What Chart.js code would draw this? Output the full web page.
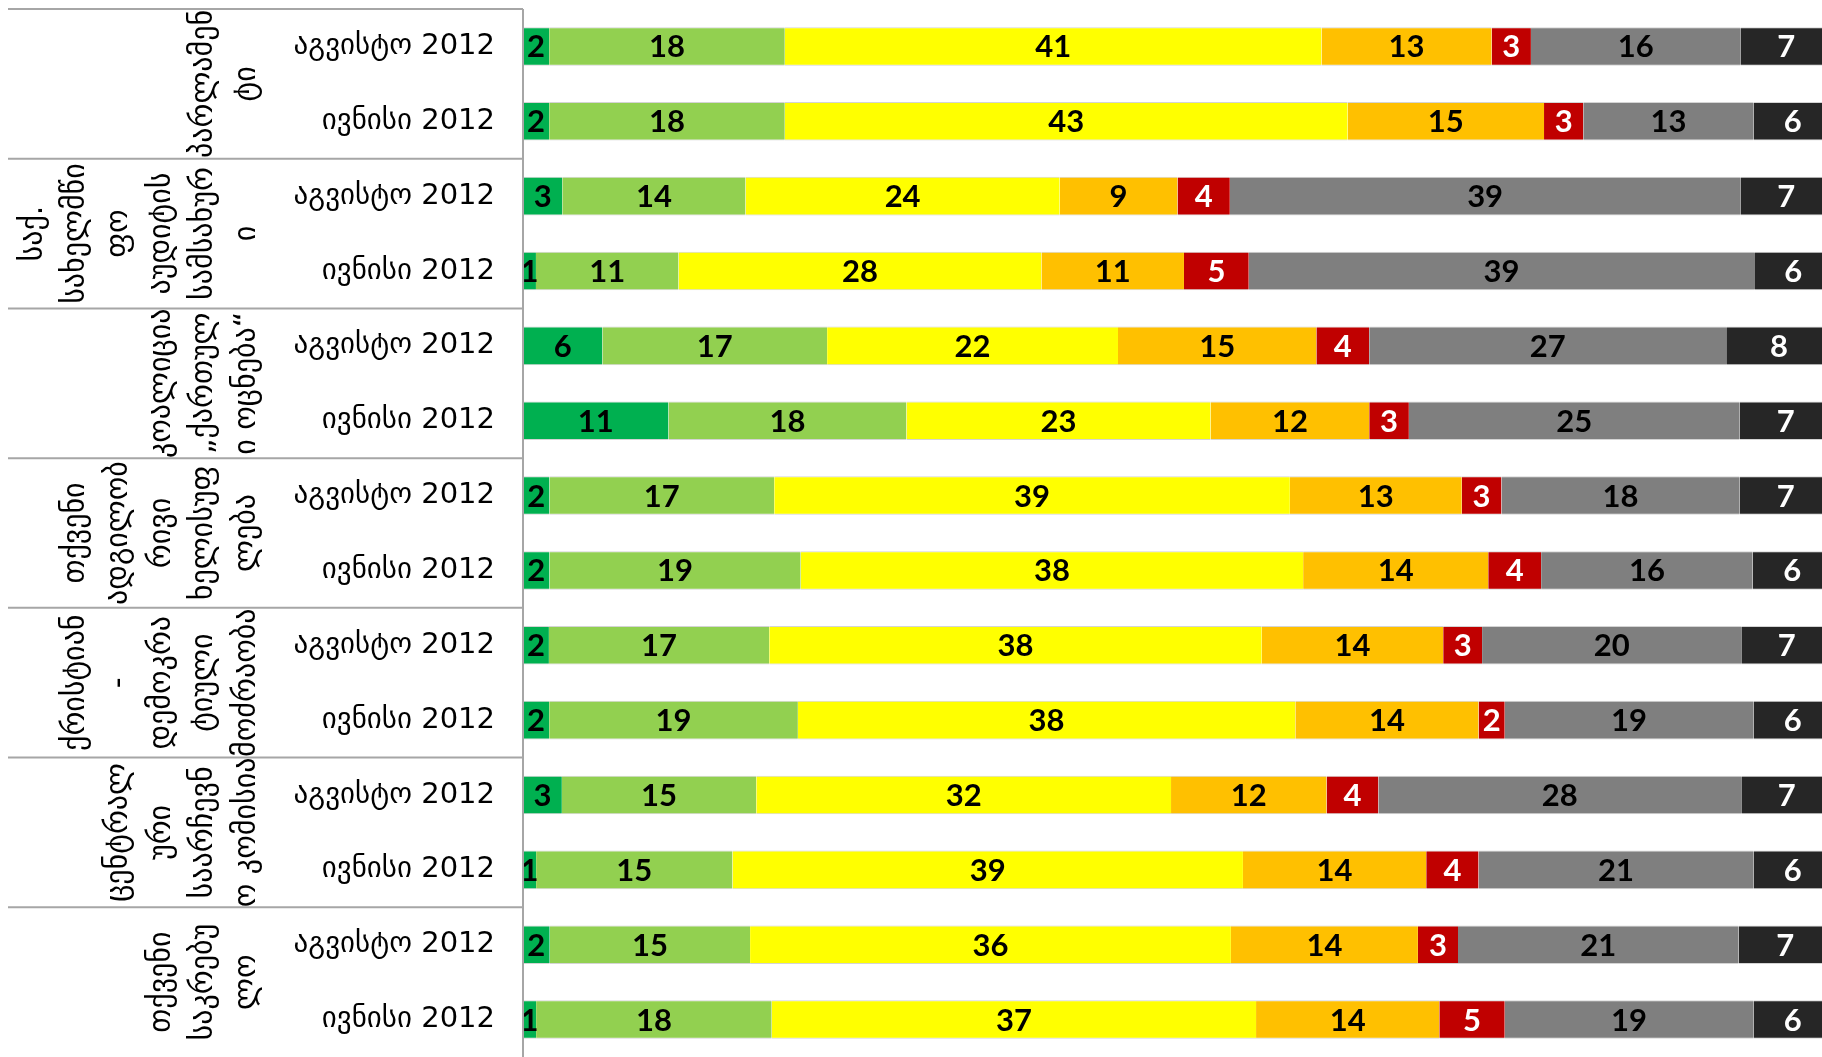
<!DOCTYPE html>
<html>
<head>
<meta charset="utf-8">
<script src="https://cdn.jsdelivr.net/npm/chart.js@4.4.1/dist/chart.umd.min.js"></script>
<style>
  html, body { margin: 0; padding: 0; background: #fff; overflow: hidden; }
  #wrap { width: 1832px; height: 1057px; }
</style>
</head>
<body>
<div id="wrap"><canvas id="c" width="1832" height="1057"></canvas></div>
<script>
// rows: two surveys per institution, top to bottom
var periods = ["აგვისტო 2012", "ივნისი 2012"];
var groups = [
  ["პარლამენ", "ტი"],
  ["საქ.", "სახელმწი", "ფო", "აუდიტის", "სამსახურ", "ი"],
  ["კოალიცია", "„ქართულ", "ი ოცნება“"],
  ["თქვენი", "ადგილობ", "რივი", "ხელისუფ", "ლება"],
  ["ქრისტიან", "-", "დემოკრა", "ტიული", "მოძრაობა"],
  ["ცენტრალ", "ური", "საარჩევნ", "ო კომისია"],
  ["თქვენი", "საკრებუ", "ლო"]
];

// answer shares, one array per colour, Aug/Jun pairs per group
var darkGreen  = [2, 2, 3, 1, 6, 11, 2, 2, 2, 2, 3, 1, 2, 1];
var lightGreen = [18, 18, 14, 11, 17, 18, 17, 19, 17, 19, 15, 15, 15, 18];
var yellow     = [41, 43, 24, 28, 22, 23, 39, 38, 38, 38, 32, 39, 36, 37];
var orange     = [13, 15, 9, 11, 15, 12, 13, 14, 14, 14, 12, 14, 14, 14];
var red        = [3, 3, 4, 5, 4, 3, 3, 4, 3, 2, 4, 4, 3, 5];
var grey       = [16, 13, 39, 39, 27, 25, 18, 16, 20, 19, 28, 21, 21, 19];
var dark       = [7, 6, 7, 6, 8, 7, 7, 6, 7, 6, 7, 6, 7, 6];

var labels = [];
for (var g = 0; g < groups.length; g++) {
  labels.push(periods[0], periods[1]);
}

var seriesList = [
  { data: darkGreen,  color: "#00B050", text: "#000" },
  { data: lightGreen, color: "#92D050", text: "#000" },
  { data: yellow,     color: "#FFFF00", text: "#000" },
  { data: orange,     color: "#FFC000", text: "#000" },
  { data: red,        color: "#C00000", text: "#fff" },
  { data: grey,       color: "#7F7F7F", text: "#000" },
  { data: dark,       color: "#262626", text: "#fff" }
];

// 100% stacked: each row scaled to its own total
var rowTotals = labels.map(function(_, j) {
  return seriesList.reduce(function(sum, s) { return sum + s.data[j]; }, 0);
});

var datasets = seriesList.map(function(s) {
  return {
    data: s.data.map(function(v, j) { return v / rowTotals[j] * 100; }),
    raw: s.data,
    backgroundColor: s.color,
    borderColor: "#d4d4d4",
    borderWidth: { top: 1, bottom: 1, left: 0, right: 0 },
    borderSkipped: false,
    categoryPercentage: 1,
    barPercentage: 0.515,
    textColor: s.text
  };
});

// value labels in the middle of each segment
var valueLabels = {
  id: "valueLabels",
  afterDatasetsDraw: function(chart) {
    var ctx = chart.ctx;
    ctx.save();
    ctx.font = "bold 31px Lato, sans-serif";
    ctx.textAlign = "center";
    ctx.textBaseline = "middle";
    chart.data.datasets.forEach(function(ds, i) {
      var meta = chart.getDatasetMeta(i);
      ctx.fillStyle = ds.textColor;
      meta.data.forEach(function(bar, j) {
        var p = bar.getCenterPoint();
        ctx.fillText(String(ds.raw[j]), p.x, p.y + 1);
      });
    });
    ctx.restore();
  }
};

// table lines and rotated institution names on the left
var leftTable = {
  id: "leftTable",
  afterDraw: function(chart) {
    var ctx = chart.ctx;
    var area = chart.chartArea;
    var y = chart.scales.y;
    ctx.save();
    ctx.strokeStyle = "#a6a6a6";
    ctx.lineWidth = 2;
    ctx.beginPath();
    ctx.moveTo(area.left, area.top);
    ctx.lineTo(area.left, area.bottom);
    for (var g = 0; g < groups.length; g++) {
      var yy = g === 0 ? area.top
        : (y.getPixelForValue(2 * g - 1) + y.getPixelForValue(2 * g)) / 2;
      ctx.moveTo(8, yy);
      ctx.lineTo(area.left, yy);
    }
    ctx.stroke();

    ctx.fillStyle = "#000";
    ctx.font = "30px 'DejaVu Sans'";
    ctx.textAlign = "center";
    ctx.textBaseline = "middle";
    var lastX = area.left - 276;
    var step = 42.6;
    groups.forEach(function(lines, g) {
      var cy = (y.getPixelForValue(2 * g) + y.getPixelForValue(2 * g + 1)) / 2;
      lines.forEach(function(line, i) {
        var x = lastX - (lines.length - 1 - i) * step;
        ctx.save();
        ctx.translate(x, cy);
        ctx.rotate(-Math.PI / 2);
        ctx.fillText(line, 0, 0);
        ctx.restore();
      });
    });
    ctx.restore();
  }
};

new Chart(document.getElementById("c"), {
  type: "bar",
  data: { labels: labels, datasets: datasets },
  plugins: [valueLabels, leftTable],
  options: {
    indexAxis: "y",
    responsive: false,
    animation: false,
    layout: { padding: { top: 9, left: 0, right: 0, bottom: 0 } },
    plugins: { legend: { display: false }, tooltip: { enabled: false } },
    scales: {
      x: { stacked: true, min: 0, max: 100, display: false },
      y: {
        stacked: true,
        grid: { display: false },
        border: { display: false },
        ticks: {
          autoSkip: false,
          padding: 20,
          color: "#000",
          font: { family: "'DejaVu Sans'", size: 29 }
        },
        afterFit: function(scale) {
          scale.width = 523;
          scale.paddingTop = 0;
          scale.paddingBottom = 0;
        }
      }
    }
  }
});
</script>
</body>
</html>
